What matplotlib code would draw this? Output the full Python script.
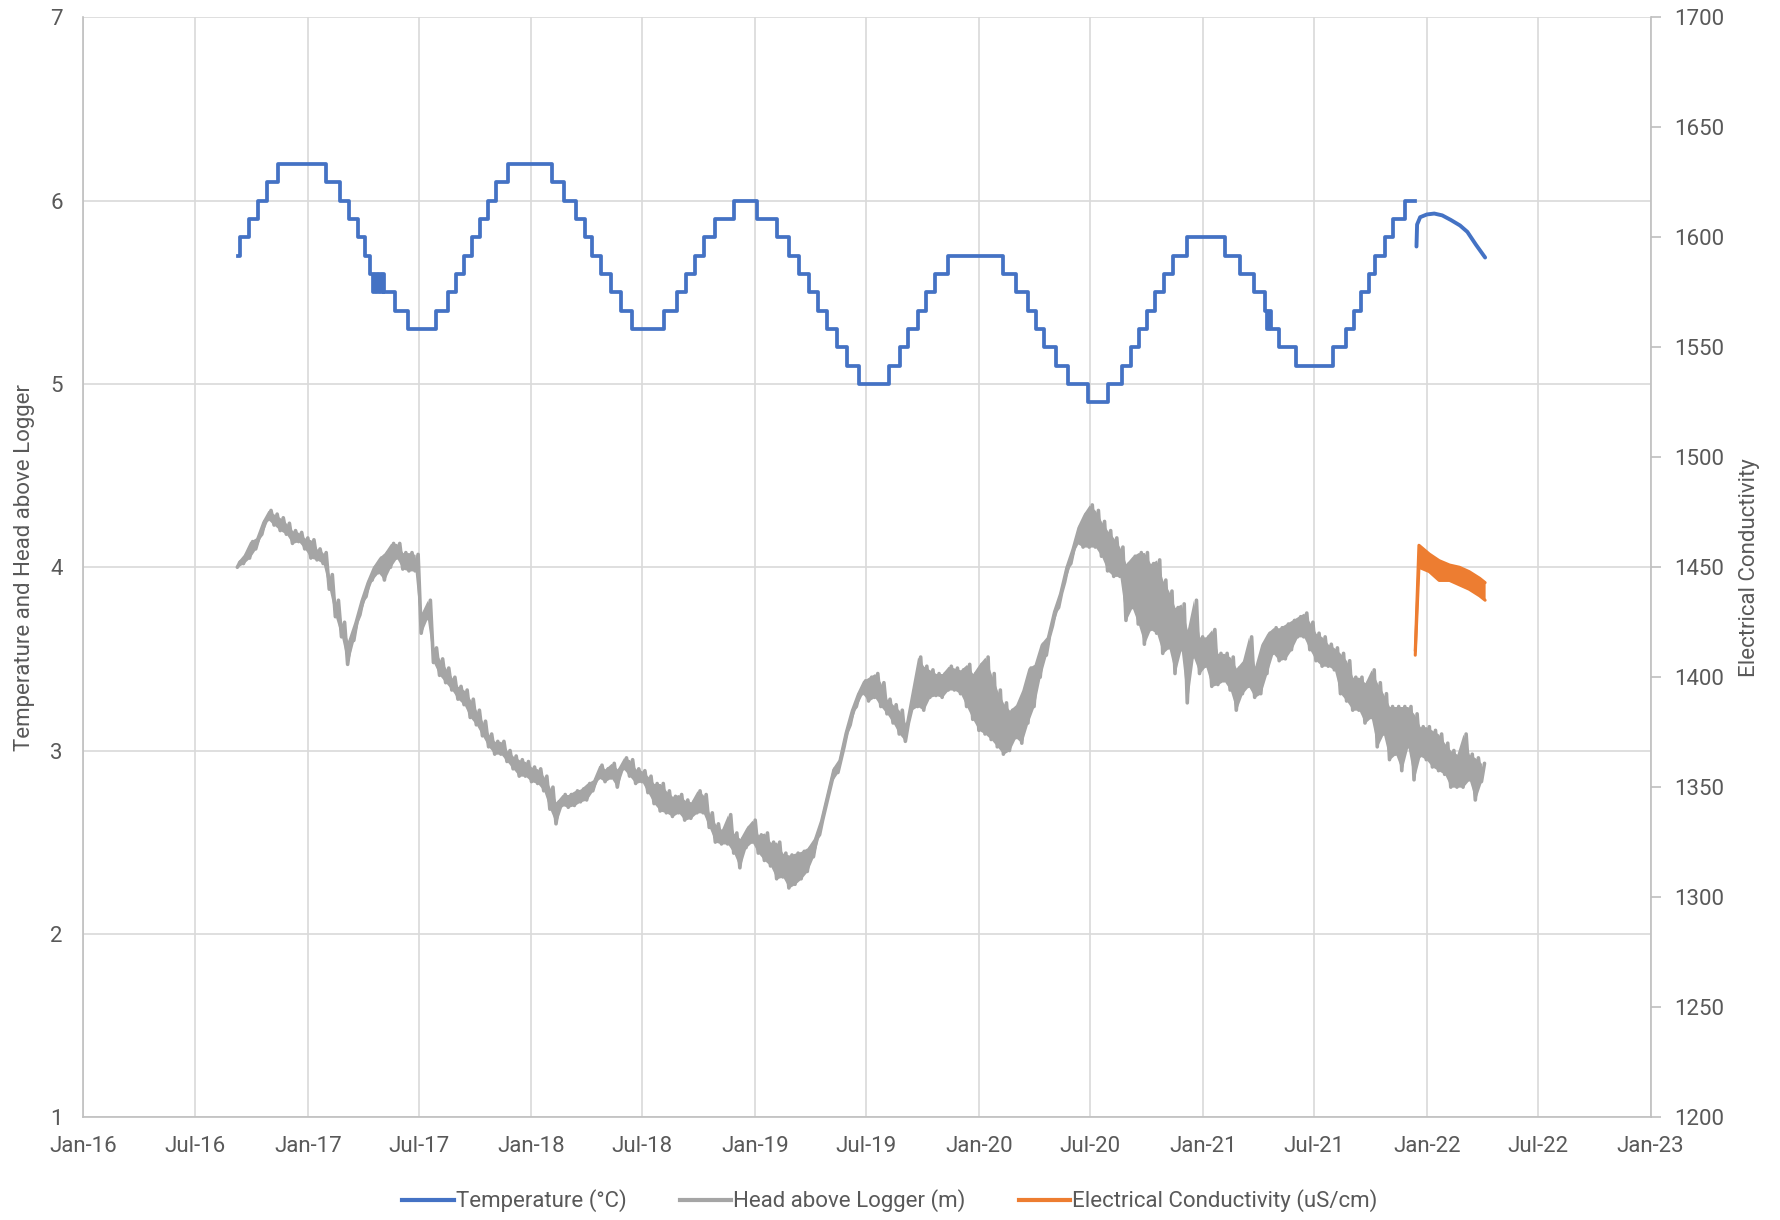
import numpy as np
import pandas as pd
import matplotlib
matplotlib.use("Agg")
import matplotlib.pyplot as plt
import matplotlib.dates as mdates
from matplotlib.lines import Line2D

plt.rcParams["font.family"] = ["Roboto", "DejaVu Sans"]

# temperature (step series, value holds until next date)
temp_dates = [
    "2016-09-09", "2016-09-12", "2016-09-27", "2016-10-11", "2016-10-27", "2016-11-14",
    "2017-01-31", "2017-02-22", "2017-03-09", "2017-03-24", "2017-04-04", "2017-04-12",
    "2017-04-18", "2017-04-21", "2017-04-24", "2017-04-27", "2017-04-30", "2017-05-03", "2017-05-06",
    "2017-05-23", "2017-06-14", "2017-07-30", "2017-08-18", "2017-08-31", "2017-09-13",
    "2017-09-26", "2017-10-09", "2017-10-22", "2017-11-04", "2017-11-23",
    "2018-02-03", "2018-02-23", "2018-03-14", "2018-03-30", "2018-04-09", "2018-04-25",
    "2018-05-10", "2018-05-27", "2018-06-14", "2018-08-05", "2018-08-26", "2018-09-10",
    "2018-09-24", "2018-10-09", "2018-10-28", "2018-11-28",
    "2019-01-04", "2019-02-05", "2019-02-25", "2019-03-14", "2019-03-29", "2019-04-13",
    "2019-04-28", "2019-05-14", "2019-05-31", "2019-06-20", "2019-08-07", "2019-08-26",
    "2019-09-08", "2019-09-23", "2019-10-06", "2019-10-21", "2019-11-12",
    "2020-02-09", "2020-03-02", "2020-03-21", "2020-04-04", "2020-04-17", "2020-05-06",
    "2020-05-25", "2020-06-27", "2020-07-30", "2020-08-22", "2020-09-05", "2020-09-18",
    "2020-10-01", "2020-10-14", "2020-10-29", "2020-11-13", "2020-12-05",
    "2021-02-06", "2021-03-02", "2021-03-25", "2021-04-12", "2021-04-15", "2021-04-18",
    "2021-04-21", "2021-05-04", "2021-06-01", "2021-08-01", "2021-08-22", "2021-09-04",
    "2021-09-15", "2021-09-28", "2021-10-09", "2021-10-24", "2021-11-06", "2021-11-26",
    "2021-12-13",
]
temp_values = [
    5.7, 5.8, 5.9, 6.0, 6.1, 6.2,
    6.1, 6.0, 5.9, 5.8, 5.7, 5.6,
    5.5, 5.6, 5.5, 5.6, 5.5, 5.6, 5.5,
    5.4, 5.3, 5.4, 5.5, 5.6, 5.7,
    5.8, 5.9, 6.0, 6.1, 6.2,
    6.1, 6.0, 5.9, 5.8, 5.7, 5.6,
    5.5, 5.4, 5.3, 5.4, 5.5, 5.6,
    5.7, 5.8, 5.9, 6.0,
    5.9, 5.8, 5.7, 5.6, 5.5, 5.4,
    5.3, 5.2, 5.1, 5.0, 5.1, 5.2,
    5.3, 5.4, 5.5, 5.6, 5.7,
    5.6, 5.5, 5.4, 5.3, 5.2, 5.1,
    5.0, 4.9, 5.0, 5.1, 5.2, 5.3,
    5.4, 5.5, 5.6, 5.7, 5.8,
    5.7, 5.6, 5.5, 5.4, 5.3, 5.4,
    5.3, 5.2, 5.1, 5.2, 5.3, 5.4,
    5.5, 5.6, 5.7, 5.8, 5.9, 6.0,
    6.0,
]

# temperature after sensor change (smooth part)
temp2_dates = ["2021-12-15", "2021-12-16", "2021-12-21", "2022-01-01", "2022-01-13",
               "2022-01-26", "2022-02-09", "2022-02-24", "2022-03-08", "2022-03-22", "2022-04-06"]
temp2_values = [5.75, 5.87, 5.91, 5.925, 5.93, 5.92, 5.895, 5.865, 5.83, 5.76, 5.69]

# head above logger: low / high of the noisy trace, every 10 days from 2016-09-08
head_start = "2016-09-08"
head_low = [
    4.00, 4.02, 4.05, 4.10, 4.18, 4.26, 4.23, 4.20, 4.18, 4.13,
    4.14, 4.10, 4.05, 4.04, 4.02, 3.88, 3.73, 3.62, 3.47, 3.60,
    3.74, 3.84, 3.93, 3.97, 3.93, 4.00, 4.05, 3.99, 3.98, 3.98,
    3.64, 3.72, 3.48, 3.41, 3.37, 3.33, 3.28, 3.25, 3.18, 3.14,
    3.08, 3.02, 2.98, 2.98, 2.94, 2.90, 2.86, 2.86, 2.83, 2.82,
    2.78, 2.68, 2.60, 2.70, 2.69, 2.70, 2.72, 2.73, 2.78, 2.85,
    2.83, 2.85, 2.80, 2.90, 2.86, 2.82, 2.83, 2.77, 2.71, 2.67,
    2.66, 2.64, 2.66, 2.62, 2.63, 2.66, 2.66, 2.58, 2.50, 2.49,
    2.49, 2.44, 2.36, 2.47, 2.50, 2.44, 2.40, 2.37, 2.30, 2.31,
    2.25, 2.27, 2.30, 2.34, 2.42, 2.54, 2.69, 2.83, 2.88, 3.02,
    3.14, 3.24, 3.31, 3.27, 3.29, 3.24, 3.20, 3.15, 3.09, 3.05,
    3.22, 3.24, 3.22, 3.29, 3.30, 3.29, 3.33, 3.33, 3.31, 3.24,
    3.17, 3.11, 3.09, 3.06, 3.02, 2.98, 3.00, 3.07, 3.04, 3.15,
    3.24, 3.40, 3.52, 3.68, 3.78, 3.92, 4.02, 4.13, 4.11, 4.11,
    4.11, 4.06, 3.98, 3.95, 3.95, 3.71, 3.78, 3.69, 3.58, 3.66,
    3.64, 3.53, 3.56, 3.42, 3.55, 3.26, 3.51, 3.42, 3.46, 3.35,
    3.36, 3.38, 3.33, 3.22, 3.31, 3.35, 3.29, 3.31, 3.42, 3.53,
    3.49, 3.50, 3.55, 3.62, 3.62, 3.55, 3.49, 3.46, 3.46, 3.44,
    3.31, 3.27, 3.22, 3.22, 3.15, 3.18, 3.02, 3.09, 2.95, 2.98,
    2.89, 3.02, 2.84, 2.97, 2.95, 2.91, 2.89, 2.87, 2.80, 2.80,
    2.80, 2.84, 2.73, 2.83,
]
head_high = [
    4.03, 4.07, 4.14, 4.16, 4.25, 4.31, 4.29, 4.27, 4.24, 4.20,
    4.19, 4.16, 4.15, 4.10, 4.08, 3.96, 3.82, 3.70, 3.60, 3.70,
    3.82, 3.92, 4.00, 4.05, 4.08, 4.13, 4.13, 4.08, 4.08, 4.07,
    3.75, 3.82, 3.56, 3.50, 3.45, 3.40, 3.35, 3.33, 3.28, 3.22,
    3.16, 3.09, 3.05, 3.05, 3.00, 2.97, 2.95, 2.94, 2.91, 2.90,
    2.86, 2.80, 2.72, 2.76, 2.76, 2.78, 2.79, 2.82, 2.84, 2.92,
    2.90, 2.93, 2.90, 2.96, 2.95, 2.90, 2.89, 2.86, 2.82, 2.82,
    2.78, 2.75, 2.76, 2.73, 2.72, 2.78, 2.76, 2.66, 2.60, 2.57,
    2.65, 2.55, 2.52, 2.58, 2.62, 2.54, 2.55, 2.50, 2.50, 2.44,
    2.43, 2.44, 2.45, 2.47, 2.52, 2.62, 2.76, 2.90, 2.95, 3.10,
    3.22, 3.31, 3.38, 3.40, 3.42, 3.37, 3.28, 3.25, 3.22, 3.15,
    3.33, 3.51, 3.46, 3.44, 3.42, 3.42, 3.46, 3.45, 3.44, 3.47,
    3.42, 3.47, 3.51, 3.42, 3.33, 3.26, 3.22, 3.25, 3.33, 3.45,
    3.47, 3.58, 3.62, 3.76, 3.86, 4.00, 4.10, 4.22, 4.29, 4.34,
    4.31, 4.25, 4.20, 4.16, 4.11, 4.02, 4.06, 4.08, 4.08, 4.02,
    4.04, 3.93, 3.87, 3.78, 3.80, 3.66, 3.82, 3.62, 3.62, 3.66,
    3.53, 3.53, 3.51, 3.45, 3.49, 3.62, 3.46, 3.58, 3.64, 3.67,
    3.67, 3.69, 3.71, 3.73, 3.75, 3.70, 3.64, 3.62, 3.58, 3.56,
    3.53, 3.49, 3.40, 3.40, 3.37, 3.44, 3.37, 3.31, 3.24, 3.24,
    3.24, 3.24, 3.20, 3.13, 3.13, 3.11, 3.09, 3.04, 3.00, 2.98,
    3.09, 2.98, 2.96, 2.93,
]

# electrical conductivity (right axis), low / high of the noisy trace
ec_dates = ["2021-12-13", "2021-12-19", "2022-01-05", "2022-01-21", "2022-02-07",
            "2022-02-23", "2022-03-11", "2022-03-28", "2022-04-06"]
ec_low = [1410, 1450, 1448, 1444, 1444, 1442, 1440, 1437, 1435]
ec_high = [1412, 1460, 1456, 1453, 1451, 1450, 1448, 1445, 1443]

C_TEMP = "#4472C4"
C_HEAD = "#A5A5A5"
C_EC = "#ED7D31"
TXT = "#595959"
GRID = "#D9D9D9"
SPINE = "#BFBFBF"
FS = 16

head_dates = pd.date_range(head_start, periods=len(head_low), freq="10D")
# the logger trace jitters between its low and high every few days
zig_x = pd.date_range(head_start, periods=2 * len(head_low), freq="5D")
zig_y = np.ravel(np.column_stack([head_low, head_high]))
ec_x = pd.to_datetime(ec_dates)

fig = plt.figure(figsize=(17.8, 12.2), dpi=100)
ax = fig.add_axes([0.0469, 0.0844, 0.8804, 0.9013])
ax2 = ax.twinx()

ax.fill_between(head_dates, head_low, head_high, color=C_HEAD, lw=0)
ax.plot(zig_x, zig_y, color=C_HEAD, lw=2.6, solid_joinstyle="round", solid_capstyle="round")

ax.plot(pd.to_datetime(temp_dates), temp_values, color=C_TEMP, lw=2.7, drawstyle="steps-post")
ax.plot(pd.to_datetime(temp2_dates), temp2_values, color=C_TEMP, lw=2.8, solid_capstyle="round")

ax2.fill_between(ec_x, ec_low, ec_high, color=C_EC, lw=0)
ax2.plot(ec_x, ec_low, color=C_EC, lw=2.2, solid_joinstyle="round", solid_capstyle="round")
ax2.plot(ec_x, ec_high, color=C_EC, lw=2.2, solid_joinstyle="round", solid_capstyle="round")

ax.set_xlim(pd.Timestamp("2016-01-01"), pd.Timestamp("2023-01-01"))
ax.set_ylim(1, 7)
ax.set_yticks(range(1, 8))
ax2.set_ylim(1200, 1700)
ax2.set_yticks(range(1200, 1701, 50))
ax.xaxis.set_major_locator(mdates.MonthLocator(bymonth=[1, 7]))
ax.xaxis.set_major_formatter(mdates.DateFormatter("%b-%y"))

ax.grid(True, color=GRID, lw=1.2)
ax.set_axisbelow(True)

for s in ["top", "right"]:
    ax.spines[s].set_visible(False)
for s in ["left", "bottom"]:
    ax.spines[s].set_color(SPINE)
    ax.spines[s].set_linewidth(1.2)
for s in ["top", "left", "bottom"]:
    ax2.spines[s].set_visible(False)
ax2.spines["right"].set_color(SPINE)
ax2.spines["right"].set_linewidth(1.2)

ax.tick_params(axis="y", length=0, pad=15, labelsize=FS, labelcolor=TXT)
ax.tick_params(axis="x", length=0, pad=14, labelsize=FS, labelcolor=TXT)
ax2.tick_params(axis="y", length=7, width=1.2, color=SPINE, pad=10, labelsize=FS, labelcolor=TXT)

ax.set_ylabel("Temperature and Head above Logger", fontsize=FS, color=TXT)
ax.yaxis.set_label_coords(-0.031, 0.5)
ax2.set_ylabel("Electrical Conductivity", fontsize=FS, color=TXT)
ax2.yaxis.set_label_coords(1.0565, 0.5)

handles = [Line2D([], [], color=C_TEMP, lw=3),
           Line2D([], [], color=C_HEAD, lw=3),
           Line2D([], [], color=C_EC, lw=3)]
labels = ["Temperature (°C)", "Head above Logger (m)", "Electrical Conductivity (uS/cm)"]
fig.legend(handles, labels, loc="center", bbox_to_anchor=(0.5, 0.0156), ncol=3,
           frameon=False, fontsize=FS, labelcolor=TXT, handlelength=2.3,
           handletextpad=0.1, columnspacing=2.4)

fig.savefig("out.png", dpi=100)
plt.close()
